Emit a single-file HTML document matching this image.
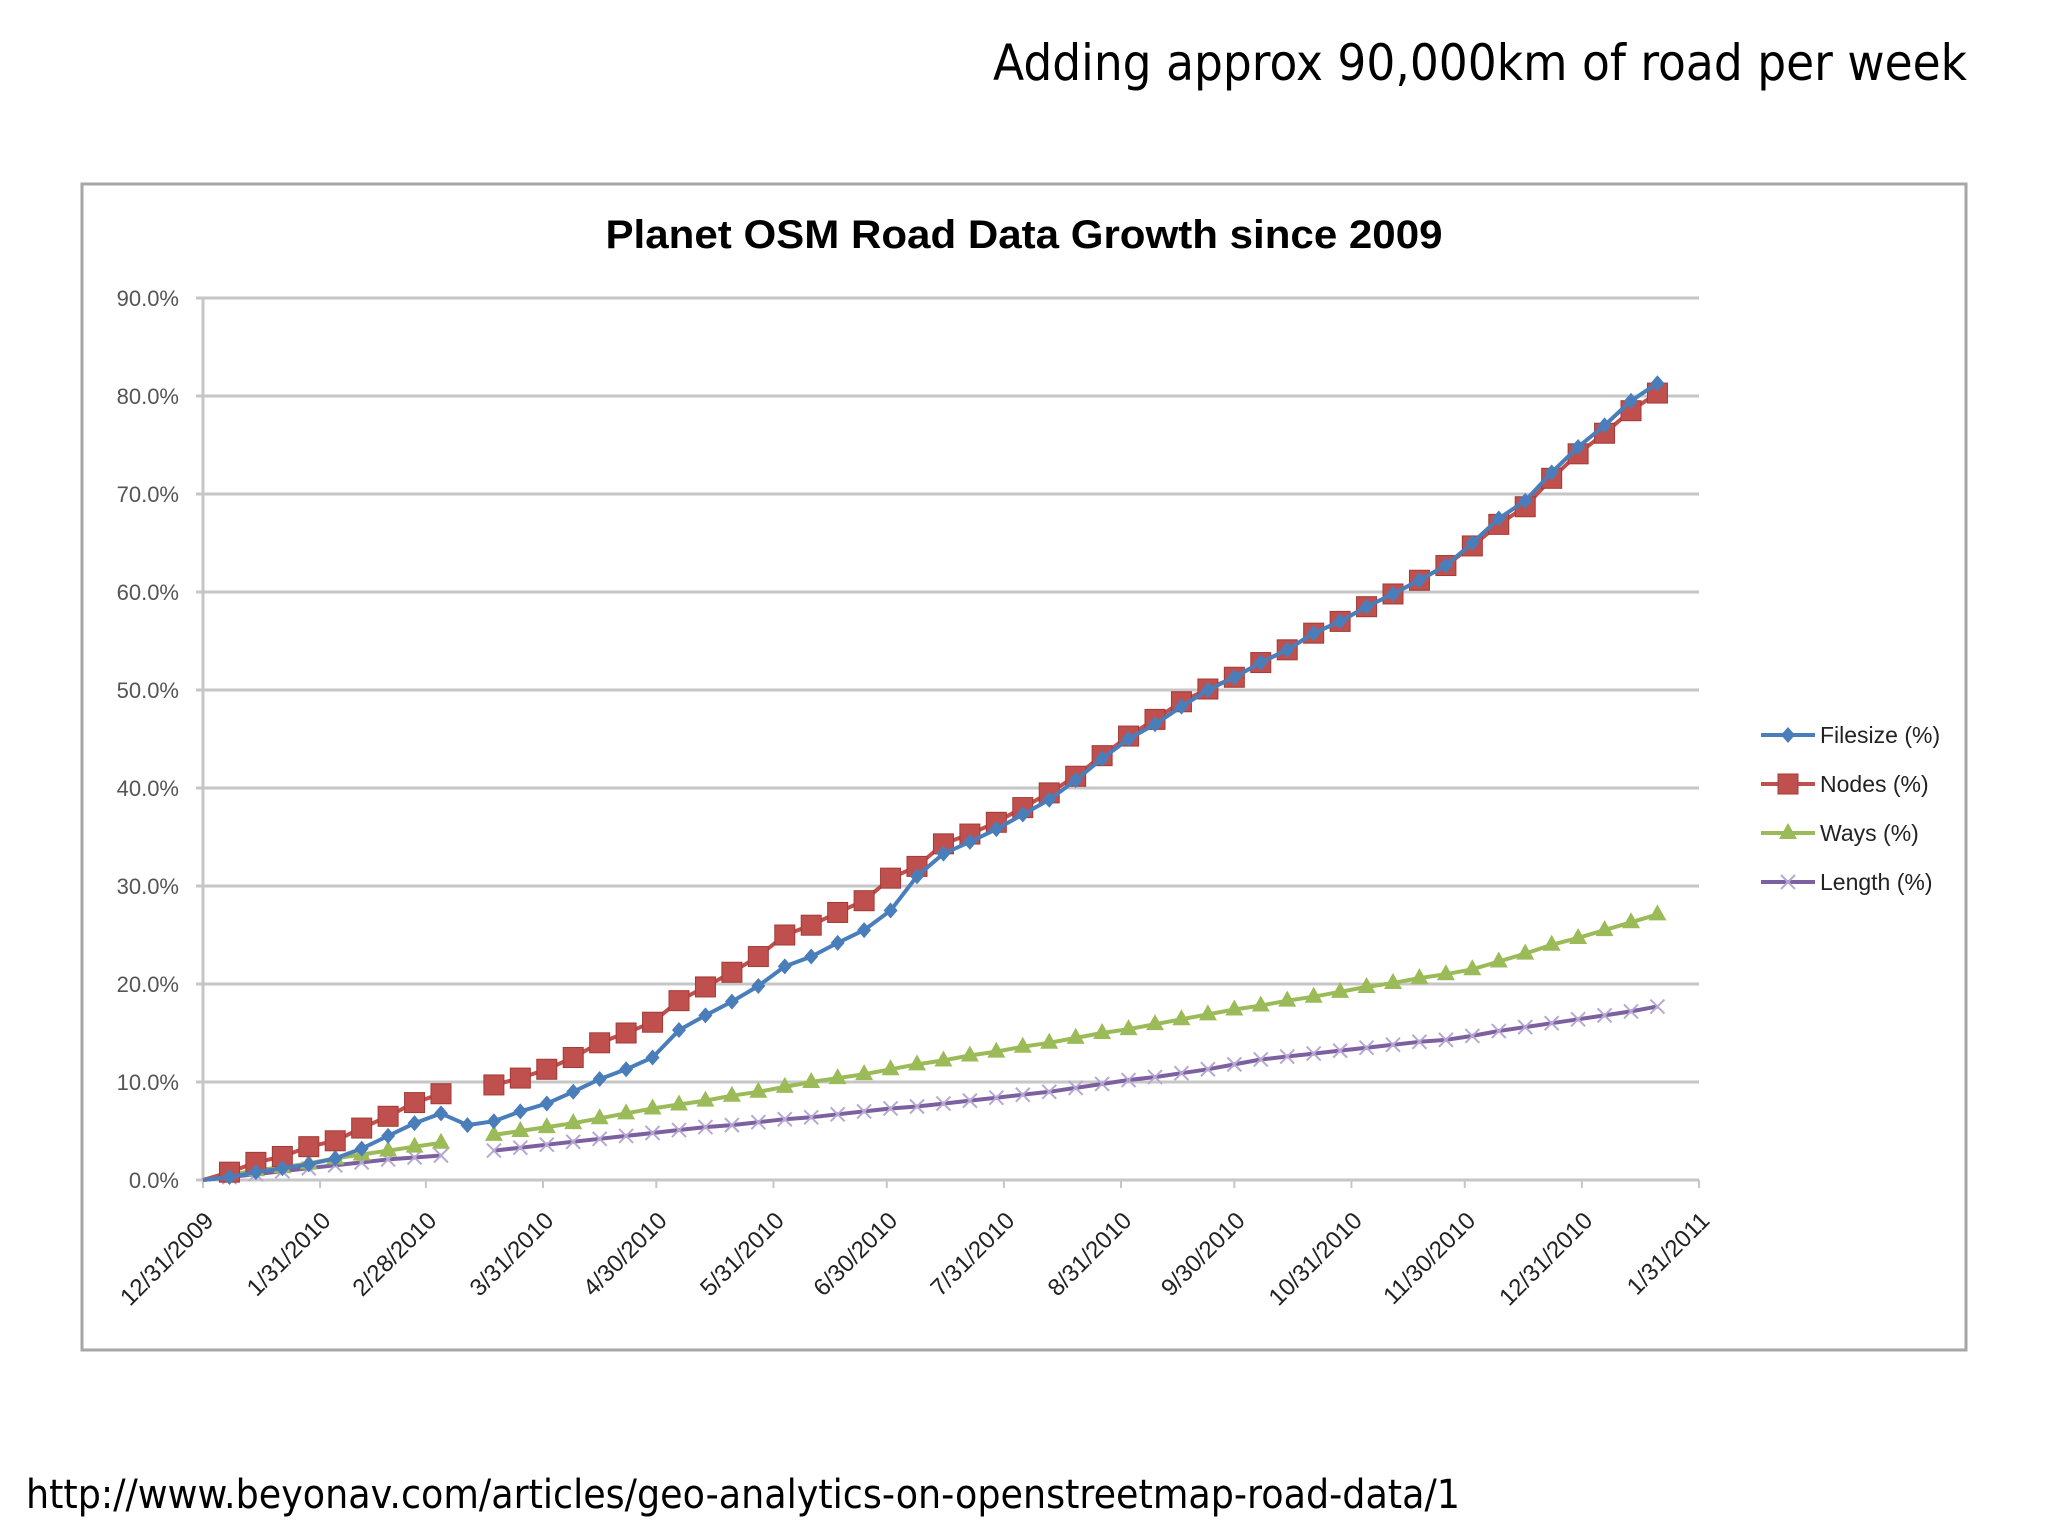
<!DOCTYPE html>
<html><head><meta charset="utf-8"><style>
html,body{margin:0;padding:0;background:#fff;}
svg{display:block;}
</style></head><body>
<svg id="chart" width="2048" height="1535" viewBox="0 0 2048 1535" xmlns="http://www.w3.org/2000/svg">
<text x="1967" y="80" text-anchor="end" font-family="DejaVu Sans, sans-serif" font-size="50" textLength="974" lengthAdjust="spacingAndGlyphs" fill="#000">Adding approx 90,000km of road per week</text>
<rect x="82" y="184" width="1884" height="1166" fill="#fff" stroke="#a6a6a6" stroke-width="3"/>
<text x="1024" y="248" text-anchor="middle" font-family="Liberation Sans, sans-serif" font-weight="bold" font-size="40" textLength="837" lengthAdjust="spacingAndGlyphs" fill="#000">Planet OSM Road Data Growth since 2009</text>
<g id="grid"></g><g id="axes"></g><g id="series"></g><g id="legend"></g>
<text x="26" y="1508" font-family="DejaVu Sans, sans-serif" font-size="40" textLength="1434" lengthAdjust="spacingAndGlyphs" fill="#000">http://www.beyonav.com/articles/geo-analytics-on-openstreetmap-road-data/1</text>
</svg>
<script>
const yTicks=[0,10,20,30,40,50,60,70,80,90];
const yTickLabels=["0.0%","10.0%","20.0%","30.0%","40.0%","50.0%","60.0%","70.0%","80.0%","90.0%"];
const xTickDays=[0,31,59,90,120,151,181,212,243,273,304,334,365,396];
const xTickLabels=["12/31/2009","1/31/2010","2/28/2010","3/31/2010","4/30/2010","5/31/2010","6/30/2010","7/31/2010","8/31/2010","9/30/2010","10/31/2010","11/30/2010","12/31/2010","1/31/2011"];
const weekCount=56;
const filesize=[0,0.3,0.8,1.2,1.6,2.2,3.2,4.5,5.8,6.8,5.6,6.0,7.0,7.8,9.0,10.3,11.3,12.5,15.3,16.8,18.2,19.8,21.8,22.8,24.2,25.5,27.5,31.0,33.3,34.5,35.8,37.3,38.8,40.8,43.0,45.0,46.5,48.3,50.0,51.3,52.8,54.1,55.8,57.0,58.5,59.8,61.2,62.7,65.0,67.5,69.3,72.2,74.8,77.0,79.5,81.3];
const nodes=[0,0.8,1.8,2.4,3.4,4.0,5.3,6.5,7.9,8.8,null,9.7,10.4,11.3,12.5,14.0,15.0,16.1,18.3,19.7,21.2,22.8,25.0,26.0,27.3,28.5,30.8,32.0,34.3,35.3,36.5,38.0,39.5,41.2,43.3,45.3,47.0,48.8,50.1,51.3,52.8,54.1,55.8,57.0,58.5,59.8,61.2,62.7,64.7,66.9,68.7,71.6,74.1,76.2,78.5,80.3];
const ways=[0,0.5,1.0,1.3,1.7,2.2,2.6,3.0,3.4,3.8,null,4.6,5.0,5.4,5.8,6.3,6.8,7.3,7.7,8.1,8.6,9.0,9.5,10.0,10.4,10.8,11.3,11.8,12.2,12.7,13.1,13.6,14.0,14.5,15.0,15.4,15.9,16.4,16.9,17.4,17.8,18.3,18.7,19.2,19.7,20.1,20.6,21.0,21.5,22.3,23.1,24.0,24.7,25.5,26.3,27.1];
const lengths=[0,0.3,0.6,0.9,1.2,1.5,1.8,2.1,2.3,2.5,null,3.0,3.3,3.6,3.9,4.2,4.5,4.8,5.1,5.4,5.6,5.9,6.2,6.4,6.7,7.0,7.3,7.5,7.8,8.1,8.4,8.7,9.0,9.4,9.8,10.2,10.5,10.9,11.3,11.8,12.3,12.6,12.9,13.2,13.5,13.8,14.1,14.3,14.7,15.2,15.6,16.0,16.4,16.8,17.2,17.7];
const seriesNames=["Filesize (%)","Nodes (%)","Ways (%)","Length (%)"];

const NS="http://www.w3.org/2000/svg";
const X0=203,X1=1699,Y0=1180,Y1=298,DMAX=396,VMAX=90;
function xScale(d){return X0+(X1-X0)*d/DMAX;}
function yScale(v){return Y0-(Y0-Y1)*v/VMAX;}
function mk(tag,attrs,parent){const e=document.createElementNS(NS,tag);for(const k in attrs)e.setAttribute(k,attrs[k]);parent.appendChild(e);return e;}
const grid=document.getElementById('grid'),axes=document.getElementById('axes'),ser=document.getElementById('series'),leg=document.getElementById('legend');

yTicks.forEach((t,i)=>{
  const y=yScale(t);
  const l=mk('line',{x1:X0-7,x2:X1,y1:y,y2:y,stroke:'#c6c6c6','stroke-width':3},grid);
  
  
  const tx=mk('text',{x:179,y:y+8,'text-anchor':'end','font-family':'Liberation Sans, sans-serif','font-size':22,fill:'#555'},axes);
  tx.textContent=yTickLabels[i];
  
  
});
const ya=mk('line',{x1:X0,x2:X0,y1:Y1,y2:Y0,stroke:'#c6c6c6','stroke-width':3},axes);


const xa=mk('line',{x1:X0,x2:X1,y1:Y0,y2:Y0,stroke:'#c6c6c6','stroke-width':3},axes);


xTickDays.forEach((d,i)=>{
  const x=xScale(d);
  const tk=mk('line',{x1:x,x2:x,y1:Y0,y2:Y0+8,stroke:'#c6c6c6','stroke-width':2},axes);
  
  
  const tx=mk('text',{x:0,y:0,'text-anchor':'end','font-family':'Liberation Sans, sans-serif','font-size':24,fill:'#222',transform:'translate('+(x+12)+','+(Y0+42)+') rotate(-45)'},axes);
  tx.textContent=xTickLabels[i];
  
  
});

function marker(type,x,y,color,g){
  let e;
  if(type==='diamond') e=mk('path',{d:`M${x} ${y-8}L${x+7} ${y}L${x} ${y+8}L${x-7} ${y}Z`,fill:color},g);
  else if(type==='square') e=mk('rect',{x:x-10,y:y-10,width:20,height:20,fill:color,stroke:'#a23a37','stroke-width':1},g);
  else if(type==='triangle') e=mk('path',{d:`M${x} ${y-10}L${x+9} ${y+6}L${x-9} ${y+6}Z`,fill:color},g);
  else e=mk('path',{d:`M${x-7} ${y-7}L${x+7} ${y+7}M${x+7} ${y-7}L${x-7} ${y+7}`,stroke:'#b6a8d4','stroke-width':2,fill:'none'},g);
  return e;
}
const defs=[
  {name:'filesize',data:filesize,color:'#4a7ebb',m:'diamond'},
  {name:'nodes',data:nodes,color:'#c0504d',m:'square'},
  {name:'ways',data:ways,color:'#9bbb59',m:'triangle'},
  {name:'length',data:lengths,color:'#7d60a0',m:'x'}
];
defs.slice().reverse().forEach(s=>{
  const g=mk('g',{},ser);
  
  
  let d='',pen=false;
  s.data.forEach((v,i)=>{
    if(v===null){pen=false;return;}
    const x=xScale(i*7),y=yScale(v);
    d+=(pen?'L':'M')+x.toFixed(1)+' '+y.toFixed(1);pen=true;
  });
  const p=mk('path',{d:d,fill:'none',stroke:s.color,'stroke-width':4,'stroke-linejoin':'round'},g);
  
  
  s.data.forEach((v,i)=>{
    if(v===null||i===0)return;
    const mm=marker(s.m,xScale(i*7),yScale(v),s.color,g);
    
    
  });
});
defs.forEach((s,i)=>{
  const y=735+i*49;
  const g=mk('g',{},leg);
  
  
  mk('line',{x1:1761,x2:1815,y1:y,y2:y,stroke:s.color,'stroke-width':4},g);
  marker(s.m,1788,y,s.color,g);
  const t=mk('text',{x:1820,y:y+8,'font-family':'Liberation Sans, sans-serif','font-size':23,fill:'#222'},g);
  t.textContent=seriesNames[i];
});
</script>
</body></html>
